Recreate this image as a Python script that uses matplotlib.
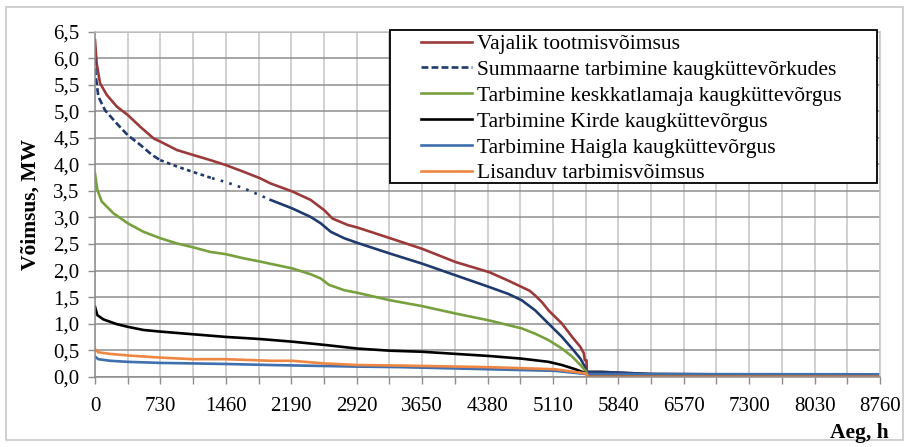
import matplotlib.pyplot as plt
from matplotlib.patches import Rectangle
import numpy as np

plt.rcParams["font.family"] = ["Liberation Serif", "DejaVu Serif"]

# hours / MW
h_req = [0, 19, 56, 131, 243, 366, 504, 653, 728, 915, 1090, 1288, 1455, 1660, 1840,
         1960, 2202, 2407, 2556, 2650, 2818, 2930, 3292, 3650, 4024, 4399, 4612, 4762,
         4850, 4912, 4990, 5061, 5211, 5324, 5417, 5455, 5466, 5485, 5488, 5650, 6215, 8760]
p_req = [6.34, 5.90, 5.53, 5.31, 5.09, 4.93, 4.71, 4.49, 4.43, 4.27, 4.18, 4.08, 3.99, 3.86, 3.74,
         3.64, 3.49, 3.33, 3.14, 2.98, 2.86, 2.81, 2.61, 2.41, 2.16, 1.97, 1.81, 1.69,
         1.62, 1.53, 1.40, 1.25, 1.00, 0.75, 0.56, 0.44, 0.31, 0.31, 0.09, 0.09, 0.05, 0.03]

h_tot = [0, 5, 37, 112, 243, 366, 504, 635, 728, 915, 1090, 1306, 1455, 1660, 1840, 1960,
         2202, 2407, 2519, 2631, 2780, 2930, 3292, 3650, 4024, 4399, 4612, 4762, 4912,
         5061, 5211, 5324, 5417, 5466, 5485, 5650, 6215, 8760]
p_tot = [6.00, 5.72, 5.28, 5.02, 4.77, 4.55, 4.37, 4.18, 4.08, 3.96, 3.86, 3.74, 3.67, 3.55, 3.42, 3.33,
         3.17, 3.01, 2.89, 2.73, 2.61, 2.52, 2.32, 2.13, 1.91, 1.69, 1.56, 1.44, 1.25,
         1.00, 0.75, 0.53, 0.34, 0.19, 0.09, 0.09, 0.05, 0.03]

h_kesk = [0, 26, 75, 205, 366, 541, 728, 915, 1090, 1288, 1455, 1660, 1840, 2202, 2407,
          2519, 2612, 2780, 2930, 3292, 3650, 4024, 4399, 4762, 4912, 5061, 5211, 5324,
          5417, 5485, 5500, 8760]
p_kesk = [3.83, 3.52, 3.30, 3.08, 2.89, 2.73, 2.61, 2.51, 2.44, 2.35, 2.31, 2.23, 2.17, 2.04, 1.93,
          1.85, 1.73, 1.63, 1.58, 1.44, 1.33, 1.19, 1.06, 0.91, 0.81, 0.69, 0.53, 0.38,
          0.22, 0.09, 0.02, 0.02]

h_kirde = [0, 26, 93, 243, 366, 541, 728, 1090, 1455, 1840, 2202, 2556, 2930, 3292, 3650,
           4024, 4399, 4762, 5061, 5211, 5361, 5485, 5500, 8760]
p_kirde = [1.32, 1.16, 1.08, 0.99, 0.94, 0.88, 0.85, 0.80, 0.75, 0.71, 0.66, 0.60, 0.53, 0.49, 0.47,
           0.43, 0.39, 0.34, 0.28, 0.22, 0.14, 0.06, 0.0, 0.0]

h_haigla = [0, 37, 168, 366, 728, 1455, 1960, 2930, 3414, 4399, 5136, 5485, 5650, 8760]
p_haigla = [0.38, 0.33, 0.30, 0.28, 0.26, 0.24, 0.22, 0.19, 0.18, 0.14, 0.11, 0.05, 0.05, 0.045]

h_lis = [0, 37, 168, 366, 728, 1090, 1455, 1960, 2202, 2556, 2930, 3414, 4399, 5136,
         5485, 5500, 8760]
p_lis = [0.52, 0.46, 0.43, 0.40, 0.36, 0.33, 0.33, 0.30, 0.30, 0.25, 0.22, 0.21, 0.18, 0.14,
         0.06, 0.0, 0.0]

labels = ["Vajalik tootmisvõimsus",
          "Summaarne tarbimine kaugküttevõrkudes",
          "Tarbimine keskkatlamaja kaugküttevõrgus",
          "Tarbimine Kirde kaugküttevõrgus",
          "Tarbimine Haigla kaugküttevõrgus",
          "Lisanduv tarbimisvõimsus"]

x_ticks = np.arange(0, 8761, 365)
y_ticks = np.arange(0, 6.51, 0.5)

W, H = 910, 447
fig = plt.figure(figsize=(W / 100, H / 100), dpi=100)
ax = fig.add_axes([95 / W, (H - 376.7) / H, 785 / W, 345 / H])
fig.patches.append(Rectangle((6 / W, 7 / H), 897 / W, 433 / H,
                             transform=fig.transFigure, fill=False,
                             edgecolor="#c8c8c8", linewidth=1.2))

lw = 1.9
ax.plot(h_req, p_req, color="#9B3A3A", lw=lw, label=labels[0])

# summary line: short dashes, then dots getting sparser, then solid where data gets dense
h_tot = np.array(h_tot)
p_tot = np.array(p_tot)
navy = "#1F3A6E"
ax.plot(h_tot[:9], p_tot[:9], color=navy, lw=lw, dashes=(2.6, 1.2), label=labels[1])
ax.plot(h_tot[8:12], p_tot[8:12], color=navy, lw=lw, dashes=(1.4, 1.3))
ax.plot(h_tot[11:16], p_tot[11:16], color=navy, lw=lw, dashes=(1.0, 2.4))
ax.plot(h_tot[15:], p_tot[15:], color=navy, lw=lw)

ax.plot(h_kesk, p_kesk, color="#77A13E", lw=lw, label=labels[2])
ax.plot(h_kirde, p_kirde, color="black", lw=lw, label=labels[3])
ax.plot(h_haigla, p_haigla, color="#3F6FAE", lw=lw, label=labels[4])
ax.plot(h_lis, p_lis, color="#EE8743", lw=lw, label=labels[5])

ax.set_xlim(0, 8760)
ax.set_ylim(0, 6.5)
ax.set_xticks(x_ticks)
ax.set_xticklabels([str(v) if v % 730 == 0 else "" for v in x_ticks])
ax.set_yticks(y_ticks)
ax.set_yticklabels([f"{v:.1f}".replace(".", ",") for v in y_ticks])
ax.tick_params(axis="both", labelsize=15, length=5, color="#8c8c8c", width=1)
ax.tick_params(axis="x", pad=9.3)
ax.tick_params(axis="y", pad=6)

ax.grid(axis="x", color="#c4c4c4", lw=1.1)
ax.grid(axis="y", color="#8e8e8e", lw=1.1)
ax.set_axisbelow(True)
for side in ["left", "bottom"]:
    ax.spines[side].set_color("#8c8c8c")
    ax.spines[side].set_linewidth(1.1)
for side in ["top", "right"]:
    ax.spines[side].set_color("#c4c4c4")
    ax.spines[side].set_linewidth(1.1)

ax.set_ylabel("Võimsus, MW", fontsize=15.5, fontweight="bold", labelpad=9)
fig.text(889 / W, 1 - 438 / H, "Aeg, h", fontsize=15.5, fontweight="bold",
         ha="right", va="baseline")

# legend box drawn separately (Excel keeps a wide left margin before the keys)
ax.add_patch(Rectangle((390 / W, 1 - 183 / H), 487 / W, 153 / H,
                       transform=fig.transFigure, clip_on=False, facecolor="white",
                       edgecolor="black", linewidth=1.3, zorder=4.5))
leg = ax.legend(loc="upper left", bbox_to_anchor=(421 / W, 1 - 34 / H),
                bbox_transform=fig.transFigure, fontsize=15.5, frameon=False,
                handlelength=2.35, handletextpad=0.25, labelspacing=0.27,
                borderpad=0, borderaxespad=0)
leg.set_zorder(5)

fig.savefig("out.png", dpi=100)
